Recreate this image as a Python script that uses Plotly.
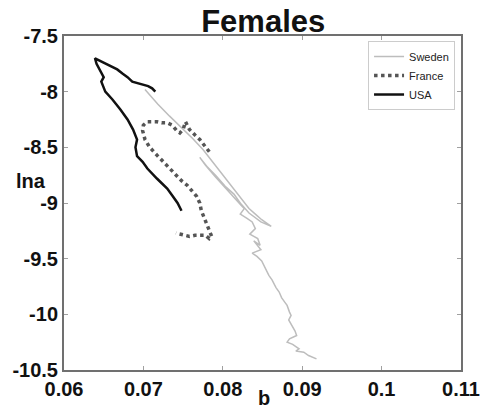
import plotly.graph_objects as go

# ---- data ----
sweden_b = [0.0702, 0.0718, 0.0733, 0.0748, 0.0762, 0.0775, 0.0786, 0.0796, 0.0806, 0.0816,
            0.0826, 0.0833, 0.0841, 0.0849, 0.0861, 0.0848, 0.0833, 0.0823, 0.0814, 0.0803,
            0.0792, 0.0781, 0.0771, 0.0778, 0.0790, 0.0801, 0.0812, 0.0823, 0.0827, 0.0822,
            0.0831, 0.0837, 0.0841, 0.0834, 0.0844, 0.0847, 0.0839, 0.0848, 0.0837, 0.0843,
            0.0849, 0.0853, 0.0858, 0.0862, 0.0867, 0.0871, 0.0874, 0.0878, 0.0881, 0.0884,
            0.0886, 0.0883, 0.0887, 0.0891, 0.0893, 0.0884, 0.0881, 0.0888, 0.0896, 0.0892,
            0.0902, 0.0908, 0.0918]
sweden_lna = [-7.98, -8.11, -8.22, -8.32, -8.42, -8.52, -8.62, -8.71, -8.81, -8.90,
              -8.99, -9.05, -9.10, -9.15, -9.21, -9.17, -9.09, -9.01, -8.92, -8.85,
              -8.76, -8.68, -8.59, -8.66, -8.76, -8.85, -8.94, -9.02, -9.05, -9.10,
              -9.14, -9.17, -9.23, -9.28, -9.32, -9.38, -9.34, -9.42, -9.45, -9.48,
              -9.52, -9.58, -9.65, -9.69, -9.76, -9.80, -9.85, -9.89, -9.92, -9.98,
              -10.01, -10.05, -10.10, -10.15, -10.19, -10.22, -10.25, -10.27, -10.31, -10.33,
              -10.34, -10.37, -10.40]

france_b = [0.0783, 0.0777, 0.0771, 0.0765, 0.0758, 0.0753, 0.0750, 0.0746, 0.0742, 0.0736,
            0.0730, 0.0723, 0.0717, 0.0711, 0.0705, 0.0700, 0.0699, 0.0702, 0.0708, 0.0717,
            0.0725, 0.0733, 0.0740, 0.0748, 0.0755, 0.0761, 0.0767, 0.0771, 0.0773, 0.0777,
            0.0781, 0.0783, 0.0786, 0.0783, 0.0778, 0.0771, 0.0765, 0.0758, 0.0752, 0.0746,
            0.0741]
france_lna = [-8.54, -8.48, -8.43, -8.39, -8.34, -8.27, -8.34, -8.37, -8.35, -8.30,
              -8.28, -8.28, -8.27, -8.27, -8.27, -8.30, -8.35, -8.43, -8.50, -8.57,
              -8.63, -8.69, -8.75, -8.80, -8.84, -8.89, -8.94, -9.00, -9.07, -9.14,
              -9.21, -9.25, -9.30, -9.32, -9.29, -9.29, -9.29, -9.30, -9.29, -9.28,
              -9.27]

usa_b = [0.0748, 0.0743, 0.0737, 0.0730, 0.0717, 0.0705, 0.0699, 0.0692, 0.0690, 0.0692,
         0.0687, 0.0680, 0.0671, 0.0661, 0.0652, 0.0647, 0.0650, 0.0646, 0.0641, 0.0639,
         0.0650, 0.0659, 0.0667, 0.0674, 0.0680, 0.0686, 0.0696, 0.0706, 0.0711, 0.0715]
usa_lna = [-9.07, -9.00, -8.94, -8.87, -8.78, -8.69, -8.63, -8.58, -8.50, -8.43,
           -8.34, -8.25, -8.16, -8.07, -8.00, -7.91, -7.87, -7.82, -7.75, -7.70,
           -7.74, -7.77, -7.80, -7.84, -7.87, -7.91, -7.93, -7.95, -7.97, -8.00]

x_ticks = [0.06, 0.07, 0.08, 0.09, 0.10, 0.11]
x_labels = ["0.06", "0.07", "0.08", "0.09", "0.1", "0.11"]
y_ticks = [-7.5, -8, -8.5, -9, -9.5, -10, -10.5]
y_labels = ["-7.5", "-8", "-8.5", "-9", "-9.5", "-10", "-10.5"]

FONT = "Liberation Sans, Arial, sans-serif"

fig = go.Figure()
fig.add_trace(go.Scatter(x=sweden_b, y=sweden_lna, mode="lines", name="Sweden",
                         line=dict(color="#bdbdbd", width=1.5)))
fig.add_trace(go.Scatter(x=france_b, y=france_lna, mode="lines", name="France",
                         line=dict(color="#555555", width=3.5, dash="dot")))
fig.add_trace(go.Scatter(x=usa_b, y=usa_lna, mode="lines", name="USA",
                         line=dict(color="#111111", width=2.5)))

axis_common = dict(showgrid=False, zeroline=False, mirror="ticks", showline=True,
                   linecolor="#707070", linewidth=2, ticks="inside", ticklen=4,
                   tickcolor="#a0a0a0", tickwidth=1,
                   tickfont=dict(family=FONT, size=20, color="#111111", weight="bold"))

fig.update_xaxes(range=[0.06, 0.11], tickvals=x_ticks, ticktext=x_labels, **axis_common)
fig.update_yaxes(range=[-10.5, -7.5], tickvals=y_ticks, ticktext=y_labels, **axis_common)

fig.update_layout(
    width=492, height=412,
    margin=dict(l=63, r=28, t=36, b=39),
    paper_bgcolor="white", plot_bgcolor="white",
    title=dict(text="<b>Females</b>", x=0.535, xanchor="center", y=0.948, yanchor="middle",
               font=dict(family=FONT, size=31, color="#111111")),
    showlegend=True,
    legend=dict(x=0.985, y=0.985, xanchor="right", yanchor="top",
                bgcolor="white", bordercolor="#cccccc", borderwidth=1,
                font=dict(family=FONT, size=11, color="#222222"),
                tracegroupgap=0),
    annotations=[
        dict(text="<b>lna</b>", xref="paper", yref="paper", x=-0.04, y=0.565,
             xanchor="right", yanchor="middle", showarrow=False,
             font=dict(family=FONT, size=20, color="#111111")),
        dict(text="<b>b</b>", xref="paper", yref="paper", x=0.504, y=-0.083,
             xanchor="center", yanchor="middle", showarrow=False,
             font=dict(family=FONT, size=20, color="#111111")),
    ],
)

fig.write_html("out.html")
